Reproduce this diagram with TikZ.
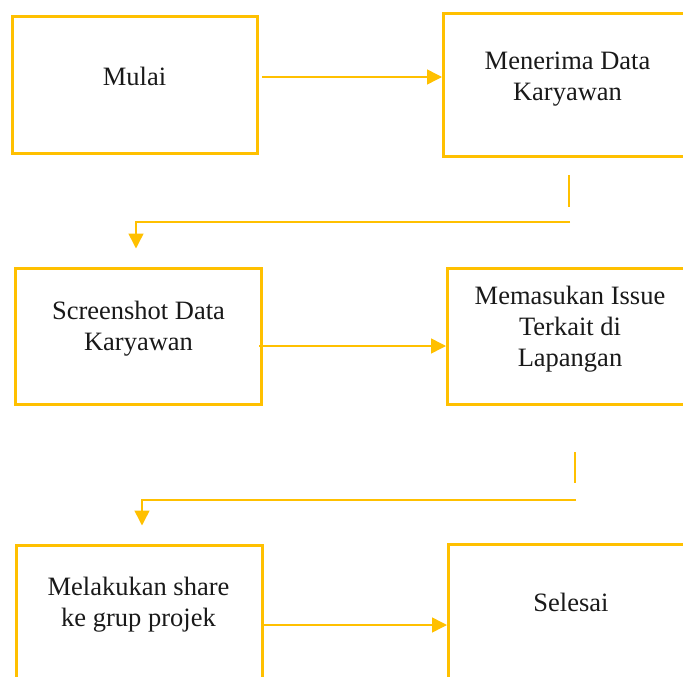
\documentclass[tikz,border=0pt]{standalone}
\usepackage{fontspec}
\setmainfont{Liberation Serif}
\usetikzlibrary{arrows.meta}
\definecolor{gold}{HTML}{FFC000}
\begin{document}
\begin{tikzpicture}[x=1pt,y=-1pt,
  box/.style={draw=gold,line width=3pt,rectangle,inner sep=0pt},
  lbl/.style={align=center,anchor=base,inner sep=0pt,font=\fontsize{26.5}{31}\selectfont,text=black!90},
  conn/.style={draw=gold,line width=1.5pt},
  arr/.style={conn,-{Triangle[length=15pt,width=15pt]}}]
\useasboundingbox (0,0) rectangle (683,677);
\clip (0,0) rectangle (683,677);
% boxes
\node[box,minimum width=245pt,minimum height=136pt] (b1) at (135,85) {};
\node[box,minimum width=251pt,minimum height=143pt] (b2) at (569,85) {};
\node[box,minimum width=246pt,minimum height=136pt] (b3) at (138,336) {};
\node[box,minimum width=249pt,minimum height=136pt] (b4) at (572,336) {};
\node[box,minimum width=246pt,minimum height=140pt] (b5) at (139,615) {};
\node[box,minimum width=249pt,minimum height=146pt] (b6) at (573,617) {};
% texts (anchor base = baseline of last line)
\node[lbl] (t1) at (134.5,85) {Mulai};
\node[lbl] (t2) at (567.5,100) {Menerima Data\\Karyawan};
\node[lbl] (t3) at (138.5,350) {Screenshot Data\\Karyawan};
\node[lbl] (t4) at (570,366) {Memasukan Issue\\Terkait di\\Lapangan};
\node[lbl] (t5) at (138.5,626) {Melakukan share\\ke grup projek};
\node[lbl] (t6) at (571,611) {Selesai};
% helper coordinates
\coordinate (a1s) at (262,77);
\coordinate (a2s) at (259,346);
\coordinate (a3s) at (264,625);
\coordinate (v1a) at (569,175);
\coordinate (v1b) at (569,207);
\coordinate (h1r) at (570,222);
\coordinate (h1l) at (136,222);
\coordinate (v2a) at (575,452);
\coordinate (v2b) at (575,483);
\coordinate (h2r) at (576,500);
\coordinate (h2l) at (142,500);
% connectors
\draw[arr] (a1s) -- (b2.west |- a1s);
\draw[arr] (a2s) -- (b4.west |- a2s);
\draw[arr] (a3s) -- (b6.west |- a3s);
\draw[conn] (v1a) -- (v1b);
\draw[arr] (h1r) -- (h1l) -- ([yshift=18pt]h1l |- b3.north);
\draw[conn] (v2a) -- (v2b);
\draw[arr] (h2r) -- (h2l) -- ([yshift=18pt]h2l |- b5.north);
\end{tikzpicture}
\end{document}
